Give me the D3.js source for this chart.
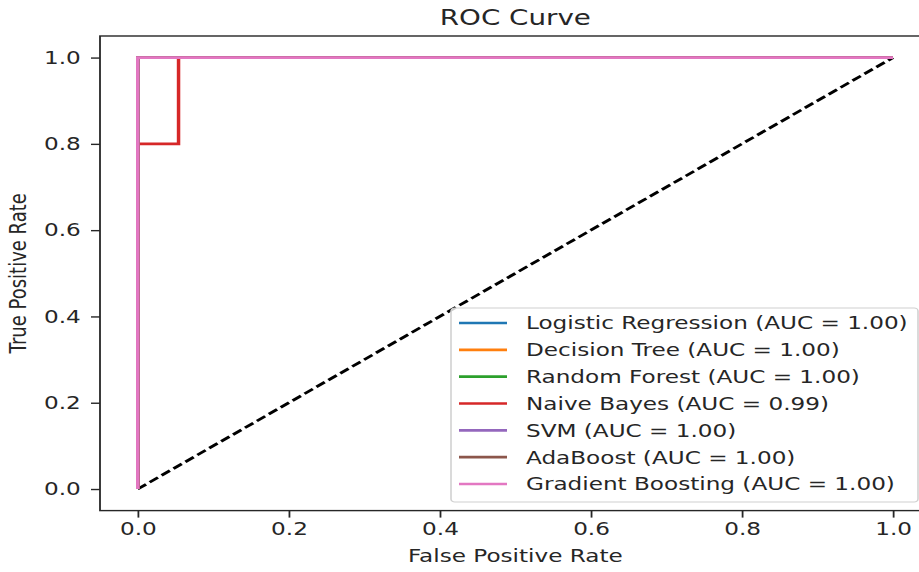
<!DOCTYPE html>
<html>
<head>
<meta charset="utf-8">
<script src="https://cdn.jsdelivr.net/npm/d3@7"></script>
<style>
  body { margin: 0; background: #fff; }
  svg { display: block; }
  text { font-family: "DejaVu Sans", sans-serif; fill: #262626; }
</style>
</head>
<body>
<script>
// ROC curves, values
var models = ["Logistic Regression", "Decision Tree", "Random Forest", "Naive Bayes",
              "SVM", "AdaBoost", "Gradient Boosting"];
var aucs = ["1.00", "1.00", "1.00", "0.99", "1.00", "1.00", "1.00"];
var colors = ["#1f77b4", "#ff7f0e", "#2ca02c", "#d62728", "#9467bd", "#8c564b", "#e377c2"];

var fprs = [
  [0, 0, 1],
  [0, 0, 1],
  [0, 0, 1],
  [0, 0, 0.054, 0.054, 1],
  [0, 0, 1],
  [0, 0, 1],
  [0, 0, 1]
];
var tprs = [
  [0, 1, 1],
  [0, 1, 1],
  [0, 1, 1],
  [0, 0.8, 0.8, 1, 1],
  [0, 1, 1],
  [0, 1, 1],
  [0, 1, 1]
];
var diagonal = [0, 1];
var ticks = [0, 0.2, 0.4, 0.6, 0.8, 1.0];

// the picture is stretched sideways, so draw in a narrower box and stretch it
var sx = 1.285;
var width = 919 / sx, height = 572;

var svg = d3.select("body").append("svg")
  .attr("width", 919).attr("height", 572)
  .attr("viewBox", "0 0 " + width + " " + height)
  .attr("preserveAspectRatio", "none");

var pLeft = 100 / sx, pRight = 930.75 / sx, pTop = 36, pBottom = 510.6;

var x = d3.scaleLinear().domain([-0.05, 1.05]).range([pLeft, pRight]);
var y = d3.scaleLinear().domain([-0.05, 1.05]).range([pBottom, pTop]);

var line = d3.line().x(function(d) { return x(d[0]); }).y(function(d) { return y(d[1]); });

// diagonal first, curves on top
svg.append("path")
  .datum(diagonal.map(function(v) { return [v, v]; }))
  .attr("d", line)
  .attr("fill", "none")
  .attr("stroke", "#000")
  .attr("stroke-width", 2.7)
  .attr("stroke-dasharray", "8,3.5");

models.forEach(function(m, i) {
  svg.append("path")
    .datum(fprs[i].map(function(f, j) { return [f, tprs[i][j]]; }))
    .attr("d", line)
    .attr("fill", "none")
    .attr("stroke", colors[i])
    .attr("stroke-width", 2.7);
});

// axes
var xAxis = svg.append("g")
  .attr("transform", "translate(0," + pBottom + ")")
  .call(d3.axisBottom(x).tickValues(ticks).tickFormat(d3.format(".1f")).tickSize(7).tickPadding(5));
var yAxis = svg.append("g")
  .attr("transform", "translate(" + pLeft + ",0)")
  .call(d3.axisLeft(y).tickValues(ticks).tickFormat(d3.format(".1f")).tickSize(7).tickPadding(8));

[xAxis, yAxis].forEach(function(g) {
  g.select(".domain").remove();
  g.selectAll(".tick line").attr("stroke", "#262626").attr("stroke-width", 1.4);
  g.selectAll(".tick text").attr("font-size", 18).attr("font-family", "DejaVu Sans").attr("fill", "#262626");
});

// frame
svg.append("rect")
  .attr("x", pLeft).attr("y", pTop)
  .attr("width", pRight - pLeft).attr("height", pBottom - pTop)
  .attr("fill", "none").attr("stroke", "#262626").attr("stroke-width", 1.4);

// labels
svg.append("text")
  .attr("x", (pLeft + pRight) / 2).attr("y", 25)
  .attr("text-anchor", "middle").attr("font-size", 21.6)
  .text("ROC Curve");
svg.append("text")
  .attr("x", (pLeft + pRight) / 2).attr("y", 562)
  .attr("text-anchor", "middle").attr("font-size", 18)
  .text("False Positive Rate");
svg.append("text")
  .attr("transform", "translate(" + (26 / sx) + "," + ((pTop + pBottom) / 2) + ") rotate(-90)")
  .attr("text-anchor", "middle").attr("font-size", 18)
  .text("True Positive Rate");

// legend
var lx = 451 / sx, ly = 308, lw = (918 - 451) / sx, lh = 194;
var legend = svg.append("g");
legend.append("rect")
  .attr("x", lx).attr("y", ly).attr("width", lw).attr("height", lh)
  .attr("rx", 3).attr("ry", 3)
  .attr("fill", "#fff").attr("fill-opacity", 0.8)
  .attr("stroke", "#d0d0d0").attr("stroke-width", 1.2);

var rowY = d3.scaleLinear().domain([0, models.length - 1]).range([323, 484]);
models.forEach(function(m, i) {
  var yy = rowY(i);
  legend.append("line")
    .attr("x1", 459 / sx).attr("x2", 507 / sx)
    .attr("y1", yy).attr("y2", yy)
    .attr("stroke", colors[i]).attr("stroke-width", 2.7);
  legend.append("text")
    .attr("x", 526 / sx).attr("y", yy)
    .attr("dy", "0.36em").attr("font-size", 18)
    .text(m + " (AUC = " + aucs[i] + ")");
});
</script>
</body>
</html>
